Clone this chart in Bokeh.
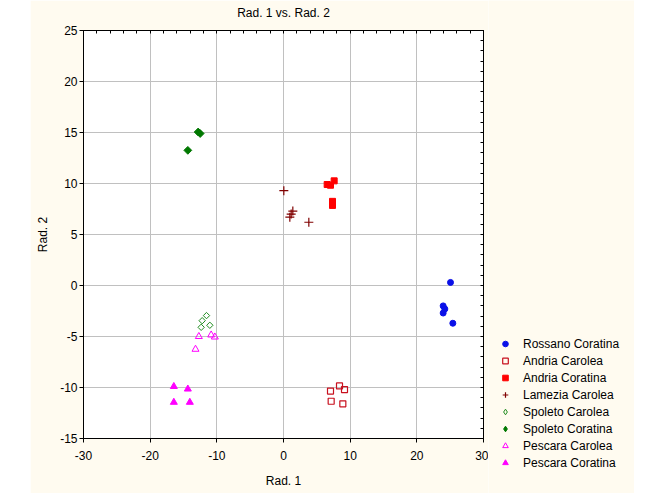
from bokeh.plotting import figure
from bokeh.layouts import row
from bokeh.models import LinearAxis, Legend, LegendItem, FixedTicker, Range1d
from bokeh.embed import file_html
from bokeh.resources import INLINE

title = "Rad. 1 vs. Rad. 2"
x_label = "Rad. 1"
y_label = "Rad. 2"
x_ticks = [-30, -20, -10, 0, 10, 20, 30]
y_ticks = [-15, -10, -5, 0, 5, 10, 15, 20, 25]

series_names = ["Rossano Coratina", "Andria Carolea", "Andria Coratina", "Lamezia Carolea",
                "Spoleto Carolea", "Spoleto Coratina", "Pescara Carolea", "Pescara Coratina"]

rossano_coratina_x = [25.05, 23.95, 24.2, 23.95, 25.4]
rossano_coratina_y = [0.3, -2.0, -2.3, -2.7, -3.7]
andria_carolea_x = [7.05, 8.4, 9.15, 7.15, 8.9]
andria_carolea_y = [-10.35, -9.85, -10.2, -11.35, -11.6]
andria_coratina_x = [6.55, 7.05, 7.6, 7.35, 7.35, 7.35]
andria_coratina_y = [9.9, 9.83, 10.26, 8.25, 8.05, 7.85]
lamezia_carolea_x = [0.05, 1.4, 1.15, 0.95, 3.8]
lamezia_carolea_y = [9.3, 7.3, 7.0, 6.7, 6.2]
spoleto_carolea_x = [-11.55, -12.2, -12.35, -11.05]
spoleto_carolea_y = [-2.95, -3.45, -4.1, -3.9]
spoleto_coratina_x = [-12.8, -12.5, -14.35]
spoleto_coratina_y = [15.05, 14.9, 13.25]
pescara_carolea_x = [-12.7, -10.85, -10.3, -13.2]
pescara_carolea_y = [-5.0, -4.85, -5.05, -6.25]
pescara_coratina_x = [-16.45, -14.35, -16.45, -14.05]
pescara_coratina_y = [-9.9, -10.15, -11.45, -11.45]

FONT = "Liberation Sans"
CREAM = "#FFFBF0"

p = figure(width=458, height=493, output_backend="svg", toolbar_location=None,
           x_range=Range1d(x_ticks[0], x_ticks[-1]), y_range=Range1d(y_ticks[0], y_ticks[-1]),
           min_border_left=53, min_border_right=5, min_border_top=30, min_border_bottom=55,
           background_fill_color="white", border_fill_color=CREAM,
           outline_line_color="black", outline_line_width=1)
p.margin = (0, 0, 0, 30)
p.frame_align = False

xt = FixedTicker(ticks=x_ticks, num_minor_ticks=5)
yt = FixedTicker(ticks=y_ticks, num_minor_ticks=5)
p.xaxis.ticker = xt
p.yaxis.ticker = yt
p.xgrid.ticker = xt
p.ygrid.ticker = yt
p.grid.grid_line_color = "#C0C0C0"
p.grid.grid_line_width = 1

p.xaxis.axis_label = x_label
p.yaxis.axis_label = y_label
p.xaxis.major_label_overrides = {t: str(t) for t in x_ticks}
p.yaxis.major_label_overrides = {t: str(t) for t in y_ticks}
for ax in (p.xaxis[0], p.yaxis[0]):
    ax.axis_label_text_font = FONT
    ax.axis_label_text_font_size = "12px"
    ax.axis_label_text_font_style = "normal"
    ax.axis_label_text_color = "black"
    ax.major_label_text_font = FONT
    ax.major_label_text_font_size = "12px"
    ax.major_label_text_color = "black"
    ax.axis_line_color = "black"
    ax.major_tick_line_color = "black"
    ax.minor_tick_line_color = "black"
    ax.major_tick_in = 0
    ax.major_tick_out = 4
    ax.minor_tick_in = 3
    ax.minor_tick_out = 0
p.xaxis.major_label_standoff = 8
p.xaxis.axis_label_standoff = 11
p.yaxis.major_label_standoff = 2
p.yaxis.axis_label_standoff = 7

# tick marks on the top and right edges (no labels); the top one carries the title
x_step = (x_ticks[1] - x_ticks[0]) / 5
y_step = (y_ticks[1] - y_ticks[0]) / 5
top_minor = [x_ticks[0] + i * x_step for i in range(int(round((x_ticks[-1] - x_ticks[0]) / x_step)) + 1)]
right_minor = [y_ticks[0] + i * y_step for i in range(int(round((y_ticks[-1] - y_ticks[0]) / y_step)) + 1)]

top_axis = LinearAxis(ticker=FixedTicker(ticks=[], minor_ticks=top_minor),
                      axis_line_color="black", minor_tick_line_color="black",
                      minor_tick_in=3, minor_tick_out=0, major_tick_in=0, major_tick_out=0,
                      axis_label=title, axis_label_standoff=11,
                      axis_label_text_font=FONT, axis_label_text_font_size="12px",
                      axis_label_text_font_style="normal", axis_label_text_color="black")
right_axis = LinearAxis(ticker=FixedTicker(ticks=[], minor_ticks=right_minor),
                        axis_line_color="black", minor_tick_line_color="black",
                        minor_tick_in=3, minor_tick_out=0, major_tick_in=0, major_tick_out=0,
                        axis_label=None)
p.add_layout(top_axis, "above")
p.add_layout(right_axis, "right")

styles = [
    dict(marker="circle", size=6, fill_color="#0A10E8", line_color="#0A10E8"),
    dict(marker="square", size=6, fill_color=None, line_color="#C8101E", line_width=1.2),
    dict(marker="square", size=6, fill_color="#FF0000", line_color="#FF0000"),
    dict(marker="cross", size=9, line_color="#800000", line_width=1.2),
    dict(marker="square", angle=0.7854, size=4.5, fill_color=None, line_color="#1E8C1E", line_width=1),
    dict(marker="square", angle=0.7854, size=5.5, fill_color="#007800", line_color="#007800"),
    dict(marker="triangle", size=7, fill_color=None, line_color="#FF00FF", line_width=1),
    dict(marker="triangle", size=7, fill_color="#FF00FF", line_color="#FF00FF"),
]
legend_markers = ["circle", "square", "square", "cross", "diamond", "diamond", "triangle", "triangle"]
legend_sizes = [5, 6, 6, 8, 7, 7, 6, 6]

series_x = [rossano_coratina_x, andria_carolea_x, andria_coratina_x, lamezia_carolea_x,
            spoleto_carolea_x, spoleto_coratina_x, pescara_carolea_x, pescara_coratina_x]
series_y = [rossano_coratina_y, andria_carolea_y, andria_coratina_y, lamezia_carolea_y,
            spoleto_carolea_y, spoleto_coratina_y, pescara_carolea_y, pescara_coratina_y]

# legend panel: a second, axis-free figure to the right
lg = figure(width=146, height=493, output_backend="svg", toolbar_location=None,
            x_range=Range1d(0, 1), y_range=Range1d(0, 1),
            x_axis_location=None, y_axis_location=None,
            min_border=0, min_border_left=0, min_border_right=0, min_border_top=0, min_border_bottom=0,
            background_fill_color=CREAM, border_fill_color=CREAM, outline_line_color=None)
lg.frame_align = False
lg.grid.visible = False

items = []
for name, xs, ys, st, lm, ls in zip(series_names, series_x, series_y, styles, legend_markers, legend_sizes):
    p.scatter(xs, ys, **st)
    lst = dict(st)
    lst.pop("angle", None)
    lst["marker"] = lm
    lst["size"] = ls
    r = lg.scatter(xs, ys, visible=False, **lst)
    items.append(LegendItem(label=name, renderers=[r]))

legend = Legend(items=items, location=(10, 22), orientation="vertical",
                background_fill_alpha=0, border_line_color=None,
                inactive_fill_alpha=0, click_policy="none",
                padding=0, margin=0, spacing=0,
                glyph_width=14, glyph_height=17, label_height=17, label_standoff=11,
                label_text_font=FONT, label_text_font_size="12px", label_text_color="black")
lg.add_layout(legend, "center")

layout = row(p, lg, spacing=0)
open("out.html", "w").write(file_html(layout, INLINE))
